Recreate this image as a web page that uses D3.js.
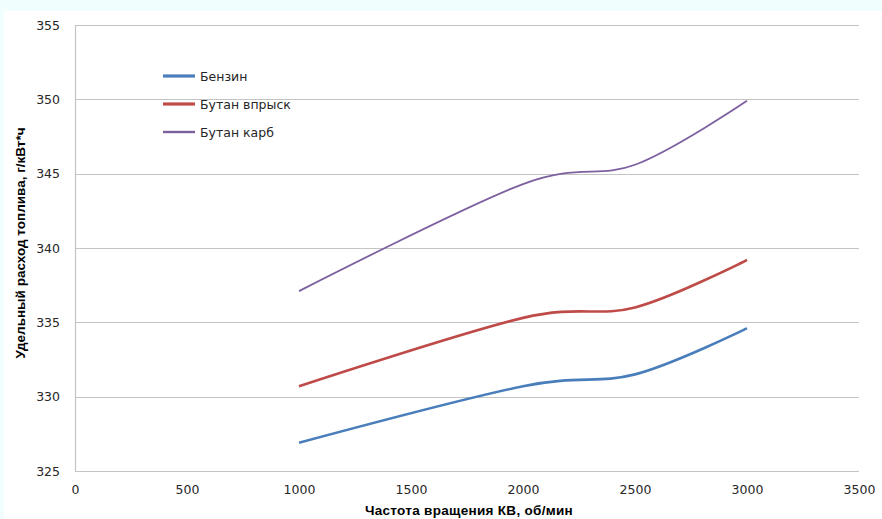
<!DOCTYPE html>
<html>
<head>
<meta charset="utf-8">
<script src="https://cdn.jsdelivr.net/npm/d3@7"></script>
<style>
  html, body { margin: 0; padding: 0; background: #f0fffe; }
  svg { display: block; }
</style>
</head>
<body>
<svg id="chart" width="882" height="519"></svg>
<script>
// Engine speed, rpm
const rpm = [1000, 2000, 2500, 3000];
// Specific fuel consumption, g/kWh
const benzin = [326.9, 330.7, 331.5, 334.6];
const butanInjection = [330.7, 335.3, 336.0, 339.2];
const butanCarb = [337.1, 344.3, 345.6, 349.9];

const seriesNames = ["Бензин", "Бутан впрыск", "Бутан карб"];
const seriesColors = ["#4a7ebb", "#be4b48", "#7d60a0"];
const seriesWidths = [2.6, 2.6, 1.8];
const xTicks = [0, 500, 1000, 1500, 2000, 2500, 3000, 3500];
const yTicks = [325, 330, 335, 340, 345, 350, 355];
const xTitle = "Частота вращения КВ, об/мин";
const yTitle = "Удельный расход топлива, г/кВт*ч";

const series = [benzin, butanInjection, butanCarb].map((vals, i) => ({
  name: seriesNames[i],
  color: seriesColors[i],
  width: seriesWidths[i],
  points: rpm.map((r, j) => ({ x: r, y: vals[j] }))
}));

const svg = d3.select("#chart");

// white chart area
svg.append("rect")
  .attr("x", 4).attr("y", 11)
  .attr("width", 878).attr("height", 508)
  .attr("fill", "#ffffff");

const x = d3.scaleLinear().domain([0, 3500]).range([75, 859]);
const y = d3.scaleLinear().domain([325, 355]).range([471, 25]);

const tickFont = "'DejaVu Sans', sans-serif";
const fmt = d3.format("d");

// horizontal gridlines
svg.append("g")
  .selectAll("line")
  .data(yTicks)
  .join("line")
  .attr("x1", x(0)).attr("x2", x(3500))
  .attr("y1", d => Math.round(y(d)) + 0.5)
  .attr("y2", d => Math.round(y(d)) + 0.5)
  .attr("stroke", "#c4c4c4")
  .attr("stroke-width", 1.2);

// vertical axis line
svg.append("line")
  .attr("x1", Math.round(x(0)) + 0.5).attr("x2", Math.round(x(0)) + 0.5)
  .attr("y1", y(355)).attr("y2", y(325))
  .attr("stroke", "#c4c4c4")
  .attr("stroke-width", 1.2);

// y axis labels
const yAxis = d3.axisLeft(y).tickValues(yTicks).tickFormat(fmt).tickSize(0).tickPadding(15);
const gy = svg.append("g")
  .attr("transform", `translate(${x(0)},0)`)
  .call(yAxis);
gy.select(".domain").remove();
gy.selectAll("text")
  .attr("font-family", tickFont)
  .attr("font-size", 12.5)
  .attr("fill", "#262626");

// x axis labels
const xAxis = d3.axisBottom(x).tickValues(xTicks).tickFormat(fmt).tickSize(0).tickPadding(14);
const gx = svg.append("g")
  .attr("transform", `translate(0,${y(325)})`)
  .call(xAxis);
gx.select(".domain").remove();
gx.selectAll("text")
  .attr("font-family", tickFont)
  .attr("font-size", 12.5)
  .attr("fill", "#262626");

// series lines (smoothed)
const line = d3.line()
  .x(d => x(d.x))
  .y(d => y(d.y))
  .curve(d3.curveCardinal.tension(0));

svg.append("g")
  .selectAll("path")
  .data(series)
  .join("path")
  .attr("d", d => line(d.points))
  .attr("fill", "none")
  .attr("stroke", d => d.color)
  .attr("stroke-width", d => d.width)
  .attr("stroke-linecap", "butt");

// legend
const legend = svg.append("g").attr("transform", "translate(163,76)");
const items = legend.selectAll("g")
  .data(series)
  .join("g")
  .attr("transform", (d, i) => `translate(0,${i * 28})`);
items.append("line")
  .attr("x1", 0).attr("x2", 32)
  .attr("y1", 0).attr("y2", 0)
  .attr("stroke", d => d.color)
  .attr("stroke-width", d => d.width + 0.6);
items.append("text")
  .attr("x", 37).attr("y", 0)
  .attr("dy", "0.36em")
  .attr("font-family", tickFont)
  .attr("font-size", 12.5)
  .attr("fill", "#262626")
  .text(d => d.name);

// axis titles
svg.append("text")
  .attr("x", 469).attr("y", 515)
  .attr("text-anchor", "middle")
  .attr("font-family", "'Liberation Sans', Arial, sans-serif")
  .attr("font-weight", "bold")
  .attr("font-size", 13.5)
  .attr("letter-spacing", 0.3)
  .attr("fill", "#000")
  .text(xTitle);

svg.append("text")
  .attr("transform", "translate(25,243) rotate(-90)")
  .attr("text-anchor", "middle")
  .attr("font-family", "'Liberation Sans', Arial, sans-serif")
  .attr("font-weight", "bold")
  .attr("font-size", 13.5)
  .attr("fill", "#000")
  .text(yTitle);
</script>
</body>
</html>
